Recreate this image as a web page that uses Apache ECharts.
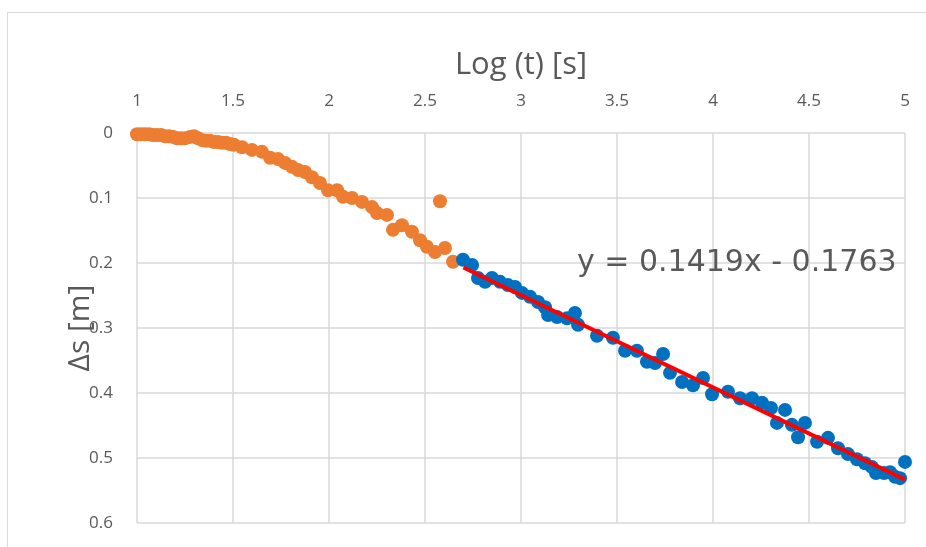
<!DOCTYPE html>
<html>
<head>
<meta charset="utf-8">
<script src="https://cdn.jsdelivr.net/npm/echarts@6/dist/echarts.min.js"></script>
<style>html,body{margin:0;padding:0;background:#fff;}#c{width:926px;height:547px;}</style>
</head>
<body>
<div id="c"></div>
<script>
// Early-time drawdown (orange)
const earlyLogT = [1.000,1.021,1.042,1.063,1.083,1.104,1.125,1.146,1.167,1.188,1.208,1.229,1.250,1.276,1.297,1.318,1.339,1.359,1.380,1.401,1.422,1.443,1.464,1.484,1.505,1.547,1.599,1.651,1.693,1.734,1.771,1.807,1.839,1.875,1.911,1.953,1.995,2.042,2.073,2.120,2.172,2.224,2.250,2.302,2.333,2.380,2.432,2.474,2.510,2.552,2.604,2.578,2.646];
const earlyDs   = [0.002,0.002,0.002,0.002,0.003,0.003,0.003,0.005,0.005,0.006,0.008,0.008,0.008,0.006,0.005,0.008,0.011,0.012,0.012,0.014,0.014,0.015,0.015,0.017,0.018,0.022,0.026,0.029,0.038,0.040,0.046,0.052,0.057,0.060,0.068,0.077,0.088,0.088,0.098,0.100,0.106,0.114,0.123,0.126,0.149,0.142,0.152,0.165,0.175,0.183,0.177,0.105,0.198];
// Late-time drawdown (blue)
const lateLogT = [2.698,2.745,2.776,2.813,2.849,2.891,2.932,2.969,3.005,3.047,3.089,3.125,3.141,3.188,3.240,3.281,3.297,3.396,3.479,3.542,3.604,3.656,3.698,3.740,3.776,3.839,3.896,3.948,3.995,4.078,4.141,4.203,4.255,4.302,4.333,4.375,4.411,4.443,4.479,4.542,4.599,4.651,4.703,4.750,4.792,4.828,4.849,4.891,4.922,4.948,4.974,5.000];
const lateDs   = [0.195,0.203,0.223,0.229,0.223,0.229,0.234,0.237,0.246,0.252,0.260,0.268,0.280,0.283,0.285,0.277,0.295,0.312,0.315,0.335,0.335,0.352,0.354,0.340,0.369,0.383,0.388,0.377,0.402,0.398,0.408,0.408,0.415,0.423,0.446,0.426,0.449,0.468,0.446,0.475,0.469,0.485,0.494,0.502,0.508,0.514,0.523,0.523,0.522,0.529,0.531,0.506];
// Linear trendline
const slope = 0.1419, intercept = -0.1763;
const trendRange = [2.70, 5.00];
const xTicks = [1, 1.5, 2, 2.5, 3, 3.5, 4, 4.5, 5];
const yTicks = [0, 0.1, 0.2, 0.3, 0.4, 0.5, 0.6];

const early = earlyLogT.map((x, i) => [x, earlyDs[i]]);
const late = lateLogT.map((x, i) => [x, lateDs[i]]);
const trend = trendRange.map(x => [x, slope * x + intercept]);
const eqText = 'y = ' + slope.toFixed(4) + 'x - ' + Math.abs(intercept).toFixed(4);

const chart = echarts.init(document.getElementById('c'), null, {renderer: 'canvas'});
const gridColor = '#D9D9D9';
const textColor = '#595959';
chart.setOption({
  animation: false,
  backgroundColor: '#ffffff',
  grid: {left: 137, right: 21, top: 133, bottom: 24},
  xAxis: {
    type: 'value', position: 'top',
    min: xTicks[0], max: xTicks[xTicks.length - 1], interval: 0.5,
    name: 'Log (t) [s]', nameLocation: 'middle', nameGap: 52, nameMoveOverlap: false,
    nameTextStyle: {fontFamily: 'Open Sans', fontSize: 31, color: textColor},
    axisLine: {show: false}, axisTick: {show: false},
    axisLabel: {fontFamily: 'Open Sans', fontSize: 17, color: textColor, margin: 23},
    splitLine: {show: true, lineStyle: {color: gridColor, width: 1.5}}
  },
  yAxis: {
    type: 'value', inverse: true,
    min: yTicks[0], max: yTicks[yTicks.length - 1], interval: 0.1,
    name: 'Δs [m]', nameLocation: 'middle', nameGap: 42, nameMoveOverlap: false,
    nameTextStyle: {fontFamily: 'Open Sans', fontSize: 30, color: textColor},
    axisLine: {show: false}, axisTick: {show: false},
    axisLabel: {fontFamily: 'Open Sans', fontSize: 17, color: textColor, margin: 24},
    splitLine: {show: true, lineStyle: {color: gridColor, width: 1.5}}
  },
  graphic: [
    {type: 'rect', shape: {x: 7.5, y: 12.5, width: 940, height: 560}, style: {fill: 'none', stroke: '#D9D9D9', lineWidth: 1}, silent: true, z: -10},
    {type: 'text', left: 577, top: 248, style: {text: eqText, fontFamily: 'DejaVu Sans', fontSize: 30, fill: textColor}, z: 100}
  ],
  series: [
    {type: 'scatter', data: early, symbolSize: 14, itemStyle: {color: '#ED7D31', opacity: 1}, z: 2},
    {type: 'scatter', data: late, symbolSize: 14, itemStyle: {color: '#0070C0', opacity: 1}, z: 3},
    {type: 'line', data: trend, symbol: 'none', lineStyle: {color: '#FF0000', width: 4}, z: 4}
  ]
});
</script>
</body>
</html>
